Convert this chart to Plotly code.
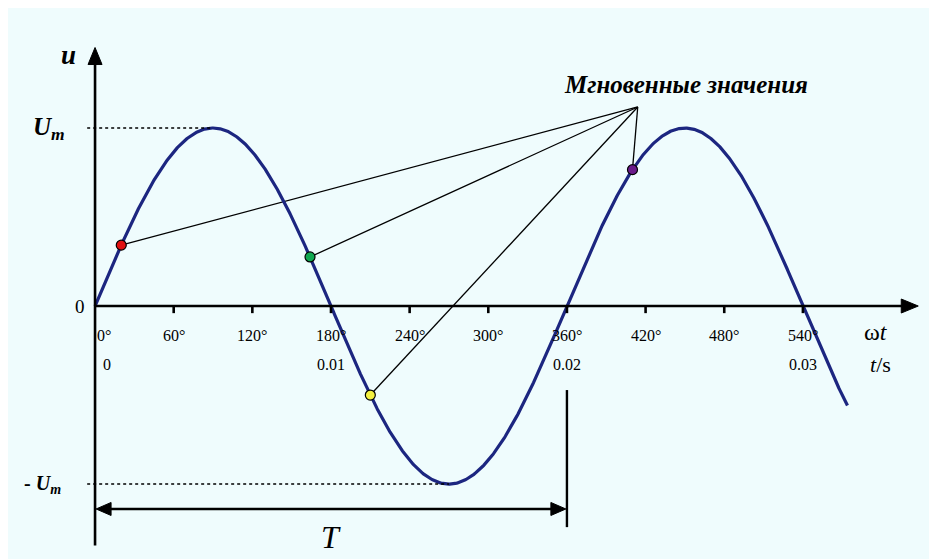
import numpy as np
import plotly.graph_objects as go

# Phase angle (degrees) of the tick marks along the ωt axis
tick_deg = [60, 120, 180, 240, 300, 360, 420, 480, 540]
# Degree labels under the axis
deg_label_pos = [0, 60, 120, 180, 240, 300, 360, 420, 480, 540]
deg_label_txt = ["0°", "60°", "120°", "180°", "240°", "300°", "360°", "420°", "480°", "540°"]
# Time labels (seconds) under the degree labels
time_label_pos = [0, 180, 360, 540]
time_label_txt = ["0", "0.01", "0.02", "0.03"]

# Amplitude and end of the drawn waveform
U_m = 1.0
wave_end_deg = 574

# Instantaneous values marked on the curve
instant_deg = [20, 164, 210, 410]
instant_color = ["#e01010", "#10a850", "#f4f040", "#6a1a8a"]

# Callout anchor (where the leader lines meet) and its caption
callout_deg, callout_u = 414, 1.118
callout_text = "Мгновенные значения"

AXIS = "#000000"
WAVE = "#1c2680"
BG = "#effcfd"
SERIF = "Liberation Serif"

# plot scale: pixels per degree and per unit of u (used to size arrowheads)
PX_DEG = 929 / (636.2 + 72.5)
PX_U = 559 / (1.719 + 1.421)

theta = np.arange(0, wave_end_deg + 0.5, 0.5)
u = U_m * np.sin(np.radians(theta))
inst_u = [U_m * np.sin(np.radians(d)) for d in instant_deg]

fig = go.Figure()

# Leader lines from the caption anchor to each instantaneous value
for d, v in zip(instant_deg, inst_u):
    fig.add_trace(go.Scatter(
        x=[callout_deg, d], y=[callout_u, v], mode="lines",
        line=dict(color="#000000", width=1.3), hoverinfo="skip", showlegend=False))

# The sinusoid
fig.add_trace(go.Scatter(
    x=theta, y=u, mode="lines", line=dict(color=WAVE, width=3.2),
    hoverinfo="skip", showlegend=False))

# Instantaneous-value markers
fig.add_trace(go.Scatter(
    x=instant_deg, y=inst_u, mode="markers",
    marker=dict(size=10, color=instant_color, line=dict(color="#000000", width=1.2)),
    hoverinfo="skip", showlegend=False))


def head_h(tip_x, y, direction, length=15, half=6.5):
    """Filled horizontal arrowhead; direction +1 points right, -1 left."""
    bx = tip_x - direction * length / PX_DEG
    hy = half / PX_U
    return dict(type="path", path=f"M {tip_x},{y} L {bx},{y + hy} L {bx},{y - hy} Z",
                fillcolor=AXIS, line=dict(color=AXIS, width=1))


def head_v(x, tip_y, length=17, half=7):
    """Filled upward arrowhead."""
    by = tip_y - length / PX_U
    hx = half / PX_DEG
    return dict(type="path", path=f"M {x},{tip_y} L {x + hx},{by} L {x - hx},{by} Z",
                fillcolor=AXIS, line=dict(color=AXIS, width=1))


shapes = []
# panel background
shapes.append(dict(type="rect", xref="paper", yref="paper", x0=8 / 929, x1=1, y0=0, y1=1 - 8 / 559,
                   fillcolor=BG, line=dict(width=0), layer="below"))
# vertical axis with arrowhead
shapes.append(dict(type="line", x0=0, x1=0, y0=-1.345, y1=1.40, line=dict(color=AXIS, width=2.6)))
shapes.append(head_v(0, 1.452))
# horizontal axis with arrowhead
shapes.append(dict(type="line", x0=0, x1=618, y0=0, y1=0, line=dict(color=AXIS, width=2.6)))
shapes.append(head_h(628, 0, +1, length=17, half=7))
# tick marks below the axis
for d in tick_deg:
    shapes.append(dict(type="line", x0=d, x1=d, y0=0, y1=-0.04, line=dict(color=AXIS, width=2.6)))
# amplitude guide lines
shapes.append(dict(type="line", x0=-6, x1=90, y0=U_m, y1=U_m, line=dict(color=AXIS, width=1.6, dash="dot")))
shapes.append(dict(type="line", x0=-6, x1=270, y0=-U_m, y1=-U_m, line=dict(color=AXIS, width=1.6, dash="dot")))
# end-of-period marker
shapes.append(dict(type="line", x0=360, x1=360, y0=-0.472, y1=-1.242, line=dict(color=AXIS, width=2.4)))
# period double arrow
shapes.append(dict(type="line", x0=5, x1=355, y0=-1.140, y1=-1.140, line=dict(color=AXIS, width=2.6)))
shapes.append(head_h(0.8, -1.140, -1))
shapes.append(head_h(359.2, -1.140, +1))

annotations = []


def label(x, y, text, size, **kw):
    annotations.append(dict(x=x, y=y, xref="x", yref="y", text=text, showarrow=False,
                            font=dict(family=SERIF, size=size, color="#000000"), **kw))


for d, t in zip(deg_label_pos, deg_label_txt):
    label(d + (7 if d == 0 else 0), -0.163, t, 16)
for d, t in zip(time_label_pos, time_label_txt):
    label(d + (9 if d == 0 else 0), -0.331, t, 16)

label(-20.5, 1.41, "<i><b>u</b></i>", 27)
label(-35, U_m, "<i><b>U</b></i><sub><i><b>m</b></i></sub>", 25)
label(-40, -U_m, "<b>- <i>U</i></b><sub><i><b>m</b></i></sub>", 20)
label(-11.5, 0.0, "0", 19)
label(596, -0.146, "ω<i>t</i>", 24)
label(599, -0.331, "<i>t</i>/s", 22)
label(180, -1.298, "<i>T</i>", 32)
label(451, 1.242, "<b><i>" + callout_text + "</i></b>", 25)

fig.update_layout(
    width=929, height=559, autosize=False,
    margin=dict(l=0, r=0, t=0, b=0),
    paper_bgcolor="#ffffff", plot_bgcolor="#ffffff",
    xaxis=dict(range=[-72.5, 636.2], visible=False, fixedrange=True),
    yaxis=dict(range=[-1.421, 1.719], visible=False, fixedrange=True),
    shapes=shapes, annotations=annotations, showlegend=False,
)

fig.write_html("out.html")
